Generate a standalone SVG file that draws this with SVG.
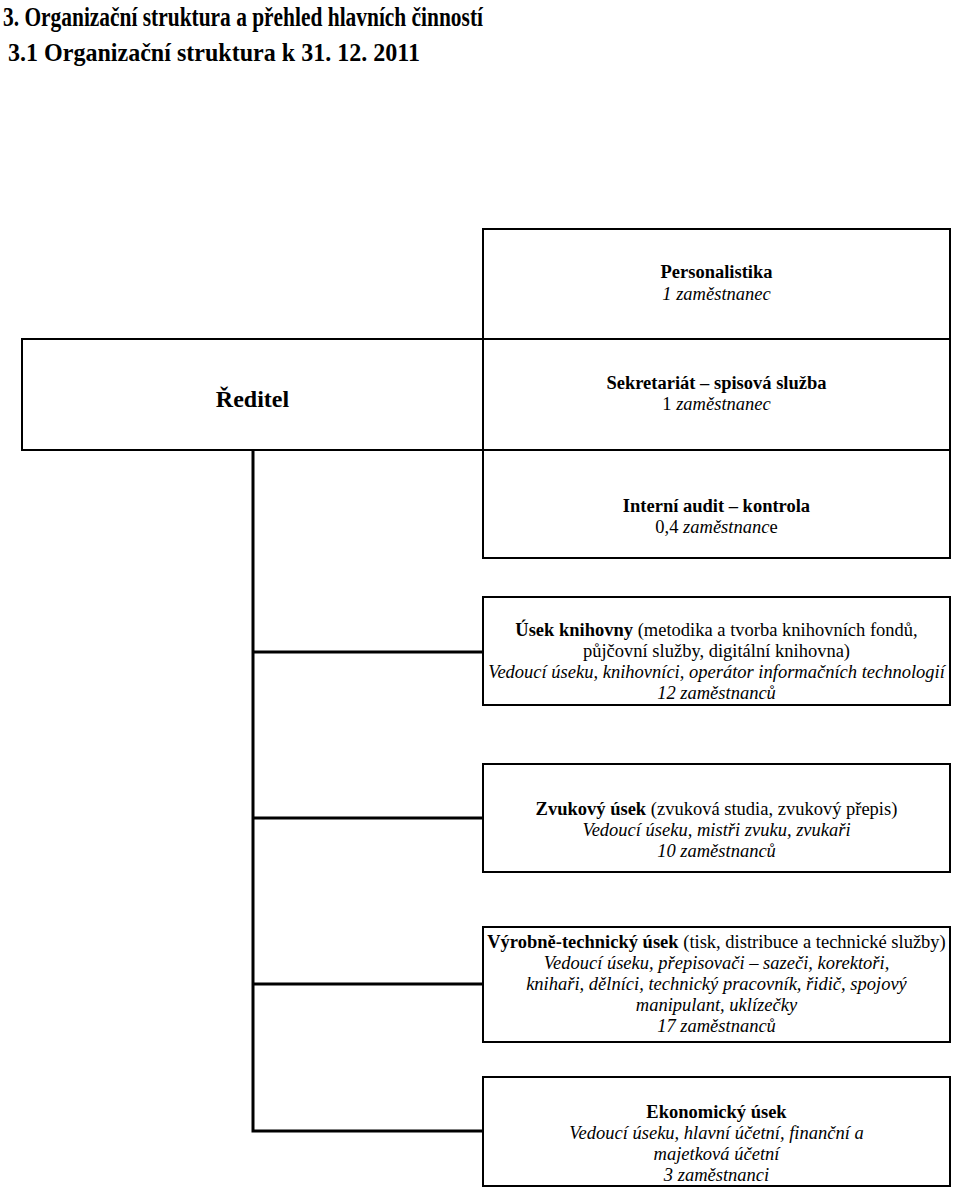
<svg xmlns="http://www.w3.org/2000/svg" width="960" height="1192" viewBox="0 0 960 1192">
<style>
.box{fill:#fff;stroke:#000;stroke-width:2}
.conn{fill:none;stroke:#000;stroke-width:3}
text{font-family:"Liberation Serif","Times New Roman",serif;fill:#000}
.t{font-size:18.5px;text-anchor:middle}
.b{font-weight:bold}
.i{font-style:italic}
.h{font-weight:bold}
</style>
<rect width="960" height="1192" fill="#fff"/>
<g id="title">
<text class="h" x="3" y="26" font-size="27" textLength="480" lengthAdjust="spacingAndGlyphs">3. Organizační struktura a přehled hlavních činností</text>
<text class="h" x="8" y="61" font-size="25" textLength="412" lengthAdjust="spacingAndGlyphs">3.1 Organizační struktura k 31. 12. 2011</text>
</g>
<g id="connectors">
<path class="conn" d="M253,450 V1131 H483"/>
<path class="conn" d="M253,652 H483"/>
<path class="conn" d="M253,818 H483"/>
<path class="conn" d="M253,984 H483"/>
</g>
<g id="reditel">
<rect class="box" x="22" y="339" width="461" height="111"/>
<text class="b" x="252.5" y="407" font-size="24" text-anchor="middle">Ředitel</text>
</g>
<g id="personalistika">
<rect class="box" x="483" y="229" width="467" height="110"/>
<text class="t b" x="716.5" y="278">Personalistika</text>
<text class="t i" x="716.5" y="300">1 zaměstnanec</text>
</g>
<g id="sekretariat">
<rect class="box" x="483" y="339" width="467" height="111"/>
<text class="t b" x="716.5" y="389">Sekretariát – spisová služba</text>
<text class="t" x="716.5" y="410">1 <tspan class="i">zaměstnanec</tspan></text>
</g>
<g id="audit">
<rect class="box" x="483" y="450" width="467" height="108"/>
<text class="t b" x="716.5" y="512">Interní audit – kontrola</text>
<text class="t" x="716.5" y="533">0,4 <tspan class="i">zaměstnanc</tspan>e</text>
</g>
<g id="knihovna">
<rect class="box" x="483" y="597" width="467" height="108"/>
<text class="t" x="716.5" y="636"><tspan class="b">Úsek knihovny</tspan> (metodika a tvorba knihovních fondů,</text>
<text class="t" x="716.5" y="657">půjčovní služby, digitální knihovna)</text>
<text class="t i" x="716.5" y="678">Vedoucí úseku, knihovníci, operátor informačních technologií</text>
<text class="t i" x="716.5" y="699">12 zaměstnanců</text>
</g>
<g id="zvukovy">
<rect class="box" x="483" y="764" width="467" height="108"/>
<text class="t" x="716.5" y="815"><tspan class="b">Zvukový úsek</tspan> (zvuková studia, zvukový přepis)</text>
<text class="t i" x="716.5" y="836">Vedoucí úseku, mistři zvuku, zvukaři</text>
<text class="t i" x="716.5" y="857">10 zaměstnanců</text>
</g>
<g id="vyrobne">
<rect class="box" x="483" y="927" width="467" height="115"/>
<text class="t" x="716.5" y="948"><tspan class="b">Výrobně-technický úsek</tspan> (tisk, distribuce a technické služby)</text>
<text class="t i" x="716.5" y="969">Vedoucí úseku, přepisovači – sazeči, korektoři,</text>
<text class="t i" x="716.5" y="990">knihaři, dělníci, technický pracovník, řidič, spojový</text>
<text class="t i" x="716.5" y="1011">manipulant, uklízečky</text>
<text class="t i" x="716.5" y="1032">17 zaměstnanců</text>
</g>
<g id="ekonomicky">
<rect class="box" x="483" y="1077" width="467" height="109"/>
<text class="t b" x="716.5" y="1118">Ekonomický úsek</text>
<text class="t i" x="716.5" y="1139">Vedoucí úseku, hlavní účetní, finanční a</text>
<text class="t i" x="716.5" y="1160">majetková účetní</text>
<text class="t i" x="716.5" y="1181">3 zaměstnanci</text>
</g>
</svg>
